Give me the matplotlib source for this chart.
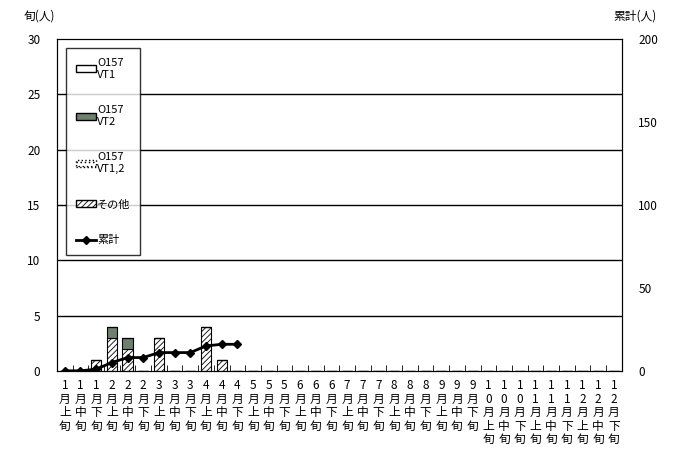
import numpy as np
import matplotlib
matplotlib.use('Agg')
from matplotlib import pyplot as plt
from matplotlib.lines import Line2D
from matplotlib.patches import Patch

plt.rcParams['font.family'] = ['Noto Sans CJK JP', 'DejaVu Sans']
plt.rcParams['hatch.linewidth'] = 0.6

# --- data ---
months = ['1', '2', '3', '4', '5', '6', '7', '8', '9', '10', '11', '12']
parts = ['上', '中', '下']
vt1 = [0] * 36
vt2 = [0, 0, 0, 1, 1, 0, 0, 0, 0, 0, 0, 0] + [0] * 24
vt12 = [0] * 36
other = [0, 0, 1, 3, 2, 0, 3, 0, 0, 4, 1, 0] + [0] * 24
cumulative = [0, 0, 1, 5, 8, 8, 11, 11, 11, 15, 16, 16]

labels = []
for m in months:
    for p in parts:
        labels.append('\n'.join(list(m) + ['月', p, '旬']))

x = np.arange(36)
w = 0.65

fig = plt.figure(figsize=(6.78, 4.55), dpi=100)
ax = fig.add_axes([0.084, 0.185, 0.833, 0.729])

b = np.zeros(36)
ax.bar(x, other, w, bottom=b, color='white', edgecolor='black', hatch='//////', linewidth=0.8)
b += np.array(other)
ax.bar(x, vt2, w, bottom=b, color='#6f806f', edgecolor='black', linewidth=0.8)
b += np.array(vt2)
ax.bar(x, vt12, w, bottom=b, color='white', edgecolor='black', hatch='....', linewidth=0.8)
b += np.array(vt12)
ax.bar(x, vt1, w, bottom=b, color='white', edgecolor='black', linewidth=0.8)

ax.set_xlim(-0.5, 35.5)
ax.set_ylim(0, 30)
ax.set_yticks(range(0, 31, 5))
for y in range(5, 30, 5):
    ax.axhline(y, color='black', linewidth=1, zorder=0)
ax.set_xticks(x)
ax.set_xticklabels(labels, fontsize=8.5, linespacing=1.05)
ax.set_xticks(np.arange(0.5, 35, 1), minor=True)
ax.tick_params(axis='x', which='major', length=0, pad=6)
ax.tick_params(axis='x', which='minor', length=4, direction='in')
ax.tick_params(axis='y', length=0, labelsize=8.5, pad=12)

ax2 = ax.twinx()
ax2.set_ylim(0, 200)
ax2.set_yticks(range(0, 201, 50))
ax2.tick_params(axis='y', length=0, labelsize=8.5, pad=12)
ax2.plot(x[:len(cumulative)], cumulative, color='black', marker='D', markersize=4, linewidth=2)

fig.text(0.035, 0.965, '旬(人)', fontsize=8.5, va='center')
fig.text(0.905, 0.965, '累計(人)', fontsize=8.5, va='center')

handles = [
    Patch(facecolor='white', edgecolor='black', label='O157\nVT1'),
    Patch(facecolor='#6f806f', edgecolor='black', label='O157\nVT2'),
    Patch(facecolor='white', edgecolor='black', hatch='....', linestyle=':', label='O157\nVT1,2'),
    Patch(facecolor='white', edgecolor='black', hatch='//////', label='その他'),
    Line2D([], [], color='black', marker='D', markersize=4, linewidth=2, label='累計'),
]
leg = ax2.legend(handles=handles, loc='upper left', bbox_to_anchor=(0.016, 0.973),
                 borderaxespad=0, frameon=True, fancybox=False, edgecolor='black',
                 fontsize=8, handlelength=1.8, handleheight=0.6, labelspacing=2.3,
                 handletextpad=0.1, borderpad=0.9)
leg.get_frame().set_linewidth(1)

fig.savefig('out.png', dpi=100)
